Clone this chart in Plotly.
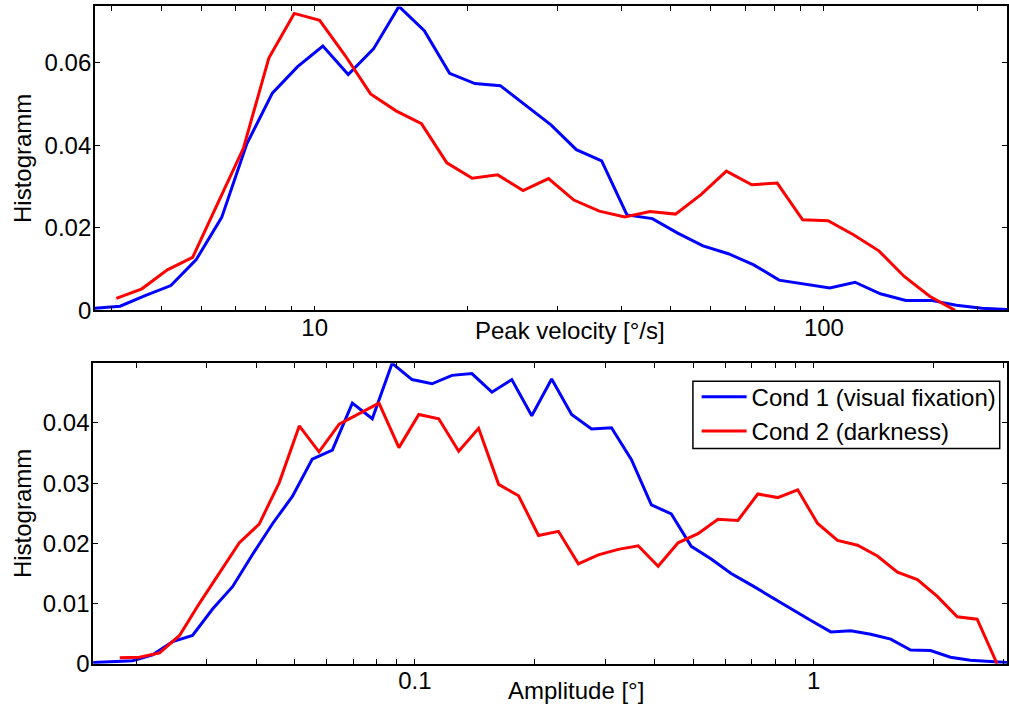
import plotly.graph_objects as go

# ---------------- data ----------------
velocity_blue = [3.70, 4.15, 4.66, 5.22, 5.85, 6.57, 7.36, 8.26, 9.26, 10.38, 11.64, 13.05,
                 14.64, 16.42, 18.41, 20.64, 23.15, 25.97, 29.11, 32.65, 36.61, 41.05, 46.04,
                 51.63, 57.89, 64.93, 72.81, 81.64, 91.56, 102.7, 115.1, 129.1, 144.8, 162.3,
                 182.0, 204.2, 229.0]
hist_vel_blue = [0.0005, 0.0010, 0.0036, 0.0060, 0.0122, 0.0225, 0.0403, 0.0526, 0.0590, 0.0640,
                 0.0571, 0.0633, 0.0736, 0.0677, 0.0574, 0.0549, 0.0544, 0.0497, 0.0449, 0.0389,
                 0.0362, 0.0231, 0.0222, 0.0187, 0.0156, 0.0137, 0.0110, 0.0073, 0.0064, 0.0054,
                 0.0068, 0.0040, 0.0024, 0.0024, 0.0012, 0.0005, 0.0002]

velocity_red = [4.08, 4.58, 5.14, 5.76, 6.47, 7.25, 8.13, 9.12, 10.23, 11.48, 12.88, 14.45, 16.21,
                18.18, 20.39, 22.88, 25.66, 28.79, 32.29, 36.22, 40.64, 45.57, 51.13, 57.36, 64.34,
                72.18, 80.97, 90.83, 101.9, 114.3, 128.2, 143.8, 161.3, 180.9]
hist_vel_red = [0.0029, 0.0052, 0.0098, 0.0128, 0.0262, 0.0393, 0.0611, 0.0719, 0.0702, 0.0617,
                0.0524, 0.0483, 0.0452, 0.0357, 0.0320, 0.0328, 0.0290, 0.0319, 0.0267, 0.0240,
                0.0226, 0.0239, 0.0233, 0.0280, 0.0337, 0.0304, 0.0308, 0.0219, 0.0217, 0.0183,
                0.0144, 0.0082, 0.0034, 0.0000]

amplitude_blue = [0.0156, 0.0175, 0.0196, 0.0220, 0.0247, 0.0277, 0.0311, 0.0349, 0.0392, 0.0440,
                  0.0493, 0.0553, 0.0621, 0.0697, 0.0782, 0.0877, 0.0984, 0.1104, 0.1239, 0.1390,
                  0.1560, 0.1750, 0.1964, 0.2203, 0.2472, 0.2774, 0.3112, 0.3492, 0.3918, 0.4396,
                  0.4932, 0.5534, 0.6209, 0.6967, 0.7817, 0.8771, 0.9841, 1.104, 1.239, 1.390,
                  1.560, 1.750, 1.964, 2.203, 2.472, 2.774, 3.112]
hist_amp_blue = [0.0002, 0.0003, 0.0005, 0.0015, 0.0037, 0.0047, 0.0091, 0.0128, 0.0182, 0.0233,
                 0.0278, 0.0340, 0.0355, 0.0433, 0.0407, 0.0499, 0.0472, 0.0465, 0.0479, 0.0482,
                 0.0451, 0.0472, 0.0412, 0.0473, 0.0414, 0.0390, 0.0392, 0.0339, 0.0264, 0.0249,
                 0.0195, 0.0174, 0.0150, 0.0131, 0.0111, 0.0092, 0.0072, 0.0053, 0.0055, 0.0049,
                 0.0041, 0.0023, 0.0022, 0.0011, 0.0006, 0.0004, 0.0002]

amplitude_red = [0.0182, 0.0204, 0.0229, 0.0257, 0.0288, 0.0324, 0.0363, 0.0407, 0.0457, 0.0513,
                 0.0575, 0.0646, 0.0724, 0.0813, 0.0912, 0.1023, 0.1148, 0.1288, 0.1445, 0.1622,
                 0.1820, 0.2042, 0.2291, 0.2570, 0.2884, 0.3236, 0.3631, 0.4074, 0.4571, 0.5129,
                 0.5754, 0.6457, 0.7244, 0.8128, 0.9120, 1.023, 1.148, 1.288, 1.445, 1.622,
                 1.820, 2.042, 2.291, 2.570, 2.884]
hist_amp_red = [0.0010, 0.0011, 0.0018, 0.0047, 0.0100, 0.0151, 0.0201, 0.0232, 0.0301, 0.0395,
                0.0352, 0.0398, 0.0415, 0.0433, 0.0359, 0.0414, 0.0407, 0.0353, 0.0391, 0.0298,
                0.0279, 0.0213, 0.0220, 0.0166, 0.0181, 0.0190, 0.0196, 0.0162, 0.0201, 0.0216,
                0.0240, 0.0238, 0.0282, 0.0276, 0.0289, 0.0233, 0.0205, 0.0197, 0.0179, 0.0152,
                0.0140, 0.0112, 0.0078, 0.0074, 0.0000]

series_names = ["Cond 1 (visual fixation)", "Cond 2 (darkness)"]

top_xtickvals = [4, 5, 6, 7, 8, 9, 10, 20, 30, 40, 50, 60, 70, 80, 90, 100, 200]
top_xticktext = ["", "", "", "", "", "", "10", "", "", "", "", "", "", "", "", "100", ""]
bot_xtickvals = [0.02, 0.03, 0.04, 0.05, 0.06, 0.07, 0.08, 0.09, 0.1,
                 0.2, 0.3, 0.4, 0.5, 0.6, 0.7, 0.8, 0.9, 1, 2, 3]
bot_xticktext = ["", "", "", "", "", "", "", "", "0.1",
                 "", "", "", "", "", "", "", "", "1", "", ""]
top_ytickvals = [0, 0.02, 0.04, 0.06]
top_yticktext = ["0", "0.02", "0.04", "0.06"]
bot_ytickvals = [0, 0.01, 0.02, 0.03, 0.04]
bot_yticktext = ["0", "0.01", "0.02", "0.03", "0.04"]

title_x_top = "Peak velocity [°/s]"
title_x_bot = "Amplitude [°]"
title_y = "Histogramm"

# ---------------- figure ----------------
W, H = 1009, 720
FONT = "Liberation Sans, Arial, Helvetica, sans-serif"
BLUE, RED = "#0000ff", "#ff0000"

fig = go.Figure()
fig.add_trace(go.Scatter(x=velocity_blue, y=hist_vel_blue, mode="lines", name=series_names[0],
                         line=dict(color=BLUE, width=3), xaxis="x", yaxis="y", showlegend=False))
fig.add_trace(go.Scatter(x=velocity_red, y=hist_vel_red, mode="lines", name=series_names[1],
                         line=dict(color=RED, width=3), xaxis="x", yaxis="y", showlegend=False))
fig.add_trace(go.Scatter(x=amplitude_blue, y=hist_amp_blue, mode="lines", name=series_names[0],
                         line=dict(color=BLUE, width=3), xaxis="x2", yaxis="y2"))
fig.add_trace(go.Scatter(x=amplitude_red, y=hist_amp_red, mode="lines", name=series_names[1],
                         line=dict(color=RED, width=3), xaxis="x2", yaxis="y2"))

axis_style = dict(showline=True, linecolor="black", linewidth=1.5, mirror="ticks",
                  ticks="inside", ticklen=5, tickwidth=1, tickcolor="black",
                  showgrid=False, zeroline=False,
                  tickfont=dict(family=FONT, size=24, color="black"))

fig.update_layout(
    width=W, height=H, autosize=False,
    margin=dict(l=0, r=0, t=0, b=0),
    paper_bgcolor="white", plot_bgcolor="white",
    font=dict(family=FONT, size=24, color="black"),
    xaxis=dict(type="log", range=[0.5684, 2.3595], domain=[95 / W, 1.0], anchor="y",
               tickmode="array", tickvals=top_xtickvals, ticktext=top_xticktext,
               ticklabelstandoff=-5, **axis_style),
    yaxis=dict(range=[0, 0.0736], domain=[1 - 316 / H, 1 - 6.5 / H], anchor="x",
               tickmode="array", tickvals=top_ytickvals, ticktext=top_yticktext,
               ticklabelstandoff=-3, **axis_style),
    xaxis2=dict(type="log", range=[-1.8068, 0.4848], domain=[93.3 / W, 1.0], anchor="y2",
                tickmode="array", tickvals=bot_xtickvals, ticktext=bot_xticktext,
                ticklabelstandoff=-5, **axis_style),
    yaxis2=dict(range=[0, 0.0499], domain=[1 - 676 / H, 1 - 370 / H], anchor="x2",
                tickmode="array", tickvals=bot_ytickvals, ticktext=bot_yticktext,
                ticklabelstandoff=-3, **axis_style),
    legend=dict(x=698 / W, y=1 - 381.5 / H, xanchor="left", yanchor="top",
                bgcolor="rgba(0,0,0,0)", borderwidth=0,
                font=dict(family=FONT, size=24, color="black"), itemwidth=45,
                tracegroupgap=0),
    showlegend=True,
)

# legend frame (white box with black border, as in the reference)
fig.add_shape(type="rect", xref="paper", yref="paper", layer="above",
              x0=694.3 / W, x1=1001.7 / W, y0=1 - 456.7 / H, y1=1 - 388.3 / H,
              line=dict(color="black", width=1.5), fillcolor="white")

annos = [
    dict(text=title_x_top, x=571 / W, y=1 - 337 / H),
    dict(text=title_x_bot, x=577.5 / W, y=1 - 703 / H),
    dict(text=title_y, x=23.3 / W, y=1 - 161.7 / H, textangle=-90),
    dict(text=title_y, x=23.3 / W, y=1 - 523.3 / H, textangle=-90),
]
for a in annos:
    fig.add_annotation(xref="paper", yref="paper", showarrow=False,
                       xanchor="center", yanchor="middle",
                       font=dict(family=FONT, size=24, color="black"), **a)

fig.write_html("out.html")
